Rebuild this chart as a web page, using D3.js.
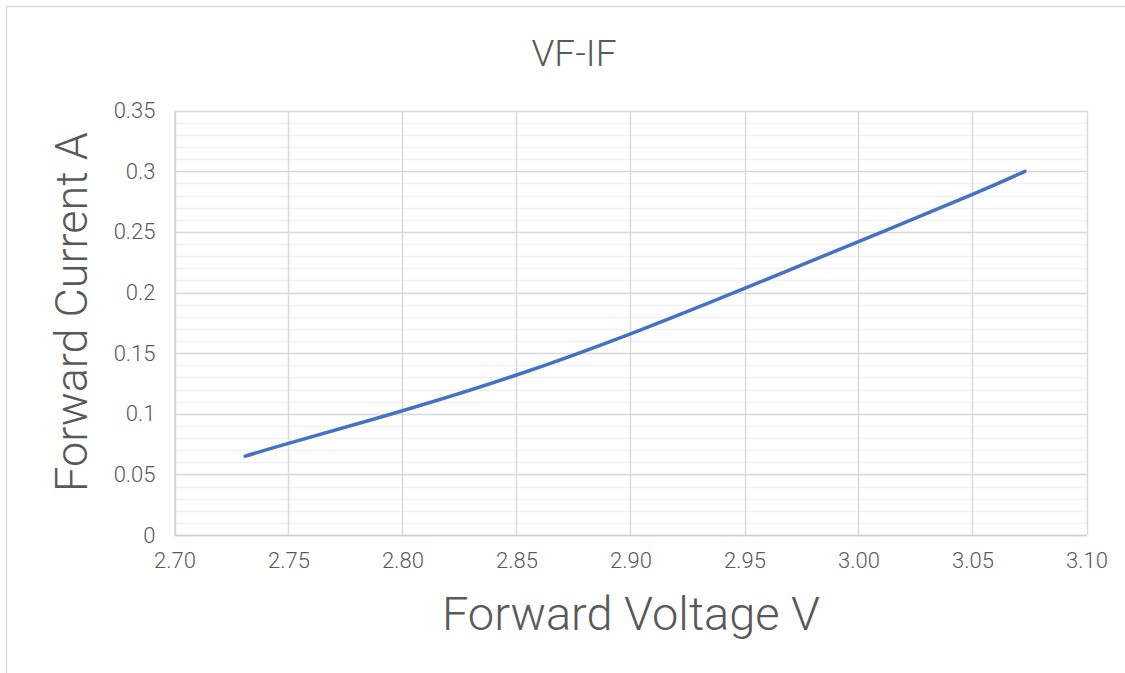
<!DOCTYPE html>
<html>
<head>
<meta charset="utf-8">
<script src="https://cdnjs.cloudflare.com/ajax/libs/d3/7.8.5/d3.min.js"></script>
<style>
  body { margin: 0; background: #fff; }
  svg { display: block; font-family: Roboto, "Noto Sans", sans-serif; font-weight: 300; }
</style>
</head>
<body>
<svg></svg>
<script>
// data
const VOLTAGE = [2.731, 2.75, 2.80, 2.85, 2.90, 2.95, 3.00, 3.05, 3.073];
const CURRENT = [0.065, 0.0756, 0.1025, 0.132, 0.166, 0.2035, 0.242, 0.281, 0.300];
const X_TICKS = [2.70, 2.75, 2.80, 2.85, 2.90, 2.95, 3.00, 3.05, 3.10];
const Y_TICKS = [0, 0.05, 0.1, 0.15, 0.2, 0.25, 0.3, 0.35];
const Y_MINOR = d3.range(0, 0.3501, 0.01);

const W = 1125, H = 673;
const M = {left: 174.5, right: 1086.5, top: 110.7, bottom: 535};

const svg = d3.select('svg').attr('width', W).attr('height', H);

// chart border
svg.append('rect')
.attr('x', 6.5).attr('y', 6.5)
.attr('width', 1140).attr('height', 700)
.attr('fill', 'none')
.attr('stroke', '#d9d9d9')
.attr('stroke-width', 1.5);

const x = d3.scaleLinear().domain([2.70, 3.10]).range([M.left, M.right]);
const y = d3.scaleLinear().domain([0, 0.35]).range([M.bottom, M.top]);

// minor gridlines
svg.append('g').selectAll('line')
.data(Y_MINOR)
.enter().append('line')
.attr('x1', M.left).attr('x2', M.right)
.attr('y1', d => Math.round(y(d)) + 0.5).attr('y2', d => Math.round(y(d)) + 0.5)
.attr('stroke', '#f2f2f2')
.attr('stroke-width', 1.5);

// major gridlines
svg.append('g').selectAll('line')
.data(Y_TICKS)
.enter().append('line')
.attr('x1', M.left).attr('x2', M.right)
.attr('y1', d => Math.round(y(d)) + 0.5).attr('y2', d => Math.round(y(d)) + 0.5)
.attr('stroke', '#d9d9d9')
.attr('stroke-width', 1.5);

svg.append('g').selectAll('line')
.data(X_TICKS)
.enter().append('line')
.attr('x1', d => Math.round(x(d)) + 0.5).attr('x2', d => Math.round(x(d)) + 0.5)
.attr('y1', M.top).attr('y2', M.bottom)
.attr('stroke', '#d9d9d9')
.attr('stroke-width', 1.5);

// axes
const xAxis = svg.append('g')
.attr('transform', `translate(0, ${M.bottom})`)
.call(d3.axisBottom(x).tickValues(X_TICKS).tickFormat(d3.format('.2f')).tickSize(0).tickPadding(17))
.attr('font-family', null).attr('font-size', null);
xAxis.select('.domain').attr('stroke', '#d0d0d0').attr('stroke-width', 1.5);
xAxis.selectAll('text').attr('fill', '#595959').style('font-size', '22px');

const yAxis = svg.append('g')
.attr('transform', `translate(${M.left}, 0)`)
.call(d3.axisLeft(y).tickValues(Y_TICKS).tickFormat(d => d3.format('~g')(d)).tickSize(0).tickPadding(19))
.attr('font-family', null).attr('font-size', null);
yAxis.select('.domain').attr('stroke', '#d0d0d0').attr('stroke-width', 1.5);
yAxis.selectAll('text').attr('fill', '#595959').style('font-size', '22px');

// curve
const pts = VOLTAGE.map((v, i) => [v, CURRENT[i]]);
svg.append('path')
.datum(pts)
.attr('d', d3.line().x(d => x(d[0])).y(d => y(d[1])).curve(d3.curveNatural))
.attr('fill', 'none')
.attr('stroke', '#4472c4')
.attr('stroke-width', 3.5)
.attr('stroke-linecap', 'round');

// title
svg.append('text')
.text('VF-IF')
.attr('x', 574).attr('y', 66)
.attr('text-anchor', 'middle')
.attr('fill', '#595959')
.attr('font-size', 37);

// axis titles
svg.append('text')
.text('Forward Voltage V')
.attr('x', 631).attr('y', 630)
.attr('text-anchor', 'middle')
.attr('fill', '#595959')
.attr('font-size', 47);

svg.append('text')
.text('Forward Current A')
.attr('transform', 'translate(87, 312) rotate(-90)')
.attr('text-anchor', 'middle')
.attr('fill', '#595959')
.attr('font-size', 45);
</script>
</body>
</html>
